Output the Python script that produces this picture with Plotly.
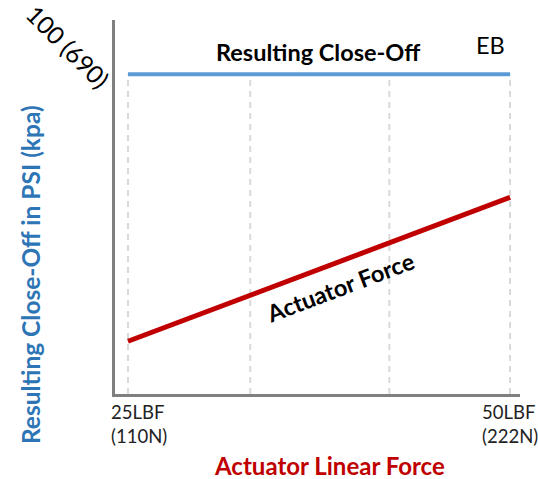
import plotly.graph_objects as go

# Data
force_lbf = [25, 50]
closeoff_eb = [100, 100]
actuator_force = [16.5, 61.5]
grid_x = [25, 33, 42.1, 50]
tick_labels = ["25LBF<br>(110N)", "50LBF<br>(222N)"]

FONT = "Lato, 'Open Sans', sans-serif"

fig = go.Figure()

# dashed vertical guides
for gx in grid_x:
    fig.add_trace(go.Scatter(x=[gx, gx], y=[0, 100], mode="lines",
                             line=dict(color="#d9d9d9", width=2, dash="6px,5px"),
                             hoverinfo="skip", showlegend=False))

fig.add_trace(go.Scatter(x=force_lbf, y=closeoff_eb, mode="lines",
                         line=dict(color="#5b9bd5", width=4), showlegend=False))
fig.add_trace(go.Scatter(x=force_lbf, y=actuator_force, mode="lines",
                         line=dict(color="#c00000", width=5), showlegend=False))

annotations = []
for xv, lab, xs in zip(force_lbf, tick_labels, [-19, -30]):
    annotations.append(dict(x=xv, y=0, xref="x", yref="y", text=lab, showarrow=False,
                            xanchor="left", yanchor="top", align="left", xshift=xs, yshift=-5,
                            font=dict(family=FONT, size=18.5, color="#222222")))

annotations += [
    dict(x=0.5, y=-0.19, xref="paper", yref="paper", text="<b>Actuator Linear Force</b>",
         showarrow=False, xanchor="center", yanchor="middle", xshift=12,
         font=dict(family=FONT, size=24, color="#c00000")),
    dict(x=0, y=0.318, xref="paper", yref="paper", text="<b>Resulting Close-Off in PSI (kpa)</b>",
         showarrow=False, textangle=-90, xanchor="center", yanchor="middle", xshift=-85,
         font=dict(family=FONT, size=24.5, color="#2e75b6")),
    dict(x=0, y=1, xref="paper", yref="paper", text="100 (690)",
         showarrow=False, textangle=45, xanchor="center", yanchor="middle", xshift=-47, yshift=-26,
         font=dict(family=FONT, size=24.5, color="#000000")),
    dict(x=37.4, y=100, xref="x", yref="y", text="<b>Resulting Close-Off</b>",
         showarrow=False, xanchor="center", yanchor="middle", yshift=22,
         font=dict(family=FONT, size=23.5, color="#000000")),
    dict(x=48.7, y=100, xref="x", yref="y", text="EB",
         showarrow=False, xanchor="center", yanchor="middle", yshift=29,
         font=dict(family=FONT, size=23.5, color="#000000")),
    dict(x=38.9, y=33.5, xref="x", yref="y", text="<b>Actuator Force</b>",
         showarrow=False, textangle=-20.7, xanchor="center", yanchor="middle",
         font=dict(family=FONT, size=23.5, color="#000000")),
]

fig.update_layout(
    width=538, height=479,
    margin=dict(l=115, r=18, t=20, b=85),
    paper_bgcolor="white", plot_bgcolor="white",
    annotations=annotations,
    xaxis=dict(range=[24.15, 50.65], showgrid=False, zeroline=False, showticklabels=False,
               ticks="", showline=True, linecolor="#808080", linewidth=3),
    yaxis=dict(range=[0, 117], showgrid=False, zeroline=False, showticklabels=False,
               ticks="", showline=True, linecolor="#808080", linewidth=3),
)

fig.write_html("out.html", config={"displayModeBar": False},
               post_script="document.body.style.margin='0';document.body.style.overflow='hidden';")
